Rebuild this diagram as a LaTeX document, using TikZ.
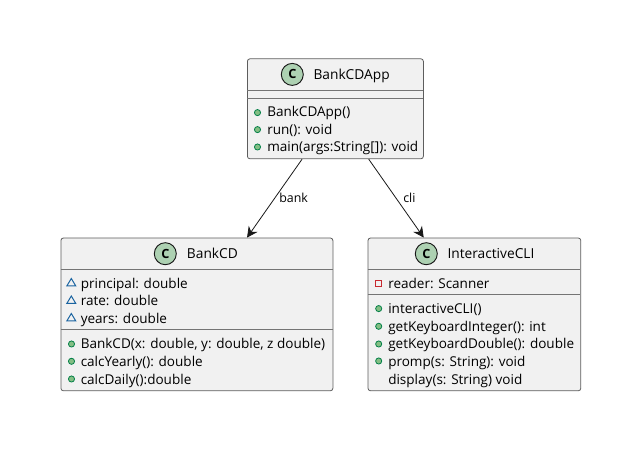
\documentclass[tikz,border=0pt]{standalone}
\usepackage{fontspec}
\setmainfont{Open Sans}
\usetikzlibrary{arrows.meta}
\definecolor{boxfill}{HTML}{F1F1F1}
\definecolor{boxline}{HTML}{181818}
\definecolor{spot}{HTML}{ADD1B2}
\definecolor{pubfill}{HTML}{84BE84}
\definecolor{publine}{HTML}{038048}
\definecolor{pkgline}{HTML}{1963A0}
\definecolor{privline}{HTML}{C82930}
\tikzset{
  x=0.75pt,y=-0.75pt,
  classbox/.style={draw=boxline!70,fill=boxfill,line width=0.6pt,rounded corners=1.9pt,inner sep=0pt,anchor=north west},
  sepline/.style={draw=boxline!60,line width=0.75pt},
  spotc/.style={circle,draw=boxline,fill=spot,line width=0.7pt,minimum size=16.5pt,inner sep=0pt,font=\bfseries\fontsize{9.5pt}{10pt}\selectfont},
  title/.style={anchor=base west,inner sep=0pt,text=black,font=\fontsize{10.3pt}{12pt}\selectfont},
  member/.style={anchor=base west,inner sep=0pt,text=black,font=\fontsize{10.15pt}{12pt}\selectfont},
  pub/.style={circle,draw=publine,fill=pubfill,line width=0.6pt,minimum size=4.6pt,inner sep=0pt},
  priv/.style={rectangle,draw=privline,fill=boxfill,line width=0.75pt,minimum size=4.6pt,inner sep=0pt},
  pkg/.style={draw=pkgline,line width=0.75pt,fill=boxfill},
  rel/.style={draw=boxline,line width=0.6pt,-{Stealth[length=8pt,width=8pt,inset=2.6pt,fill=boxline]}},
  rellabel/.style={anchor=base west,inner sep=0pt,text=black,font=\fontsize{9.3pt}{11pt}\selectfont},
}
\newcommand{\pkgmark}[2]{\draw[pkg] (#1-4.5,#2+3.5) -- (#1+4.5,#2+3.5) -- (#1,#2-4) -- cycle;}
\begin{document}
\begin{tikzpicture}
\useasboundingbox (0,0) rectangle (619,452);
% boxes
\node[classbox,minimum width=132pt,minimum height=75pt] (app) at (247,58.4) {};
\node[classbox,minimum width=204pt,minimum height=114.6pt] (cd) at (60.5,237.6) {};
\node[classbox,minimum width=159.6pt,minimum height=114.6pt] (cli) at (367.6,237.6) {};
% separators
\draw[sepline] (247,90.7) -- (423,90.7);
\draw[sepline] (247,98.3) -- (423,98.3);
\draw[sepline] (60.5,269.4) -- (332.5,269.4);
\draw[sepline] (60.5,329.4) -- (332.5,329.4);
\draw[sepline] (367.6,269.4) -- (580.4,269.4);
\draw[sepline] (367.6,294.4) -- (580.4,294.4);
% heads
\node[spotc] (appc) at (292.3,74.4) {C};
\node[title] (apptitle) at (313.3,79.4) {BankCDApp};
\node[spotc] (cdc) at (165.3,253.7) {C};
\node[title] (cdtitle) at (186.7,258.7) {BankCD};
\node[spotc] (clic) at (426.3,253.7) {C};
\node[title] (clititle) at (447.3,258.7) {InteractiveCLI};
% app members
\node[pub] (a1) at (257.5,112.6) {};
\node[pub] (a2) at (257.5,129.6) {};
\node[pub] (a3) at (257.5,147) {};
\node[member] (at1) at (267,117) {BankCDApp()};
\node[member] (at2) at (267,134.4) {run(): void};
\node[member] (at3) at (267,151.8) {main(args:String[]): void};
% cd members
\pkgmark{71.3}{282.5}
\pkgmark{71.3}{300}
\pkgmark{71.3}{317.5}
\node[member] (ct1) at (80.5,288.3) {principal: double};
\node[member] (ct2) at (80.5,305.3) {rate: double};
\node[member] (ct3) at (80.5,323.3) {years: double};
\node[pub] (c4) at (71.5,344) {};
\node[pub] (c5) at (71.5,361.3) {};
\node[pub] (c6) at (71.5,379) {};
\node[member] (ct4) at (80.5,348.3) {BankCD(x: double, y: double, z double)};
\node[member] (ct5) at (80.5,366.3) {calcYearly(): double};
\node[member] (ct6) at (80.5,384.3) {calcDaily():double};
% cli members
\node[priv] (l1) at (378.7,283.6) {};
\node[member] (lt1) at (388,288.3) {reader: Scanner};
\node[pub] (l2) at (378.7,308.6) {};
\node[pub] (l3) at (378.7,326.3) {};
\node[pub] (l4) at (378.7,344) {};
\node[pub] (l5) at (378.7,361) {};
\node[member] (lt2) at (388,313.3) {interactiveCLI()};
\node[member] (lt3) at (388,331.3) {getKeyboardInteger(): int};
\node[member] (lt4) at (388,348.3) {getKeyboardDouble(): double};
\node[member] (lt5) at (388,366.3) {promp(s: String): void};
\node[member] (lt6) at (388,384.3) {display(s: String) void};
% relations
\draw[rel] ([xshift=-25pt]app.south) -- ([xshift=37.6pt]cd.north);
\draw[rel] ([xshift=25pt]app.south) -- ([xshift=-38pt]cli.north);
\node[rellabel] (bank) at (279,202.5) {bank};
\node[rellabel] (clilab) at (403,202.5) {cli};
\end{tikzpicture}
\end{document}
